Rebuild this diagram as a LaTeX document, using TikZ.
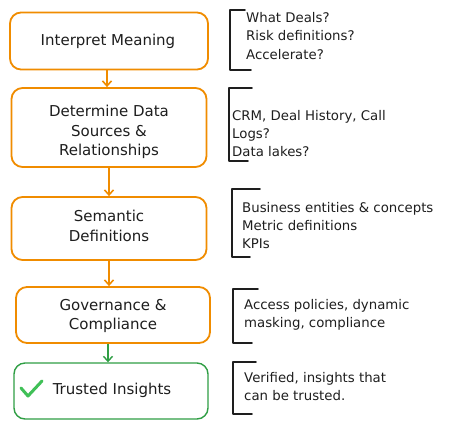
\documentclass[tikz,border=0pt]{standalone}
\usepackage{fontspec}
\setmainfont{DejaVu Sans}
\usetikzlibrary{arrows.meta}
\definecolor{exorange}{HTML}{F08C00}
\definecolor{exgreen}{HTML}{2F9E44}
\definecolor{exchk}{HTML}{40C057}
\definecolor{exink}{HTML}{1E1E1E}
\tikzset{
  flowbox/.style={draw=exorange, line width=1.8pt, rounded corners=11pt, fill=white, inner sep=0pt},
  goodbox/.style={flowbox, draw=exgreen, line width=1.4pt},
  boxtext/.style={align=center, text=exink, inner sep=0pt, font=\fontsize{15}{19.5}\selectfont},
  flowarrow/.style={draw=exorange, line width=1.6pt, -{Straight Barb[length=5pt,width=9pt]}},
  goodarrow/.style={flowarrow, draw=exgreen, line width=1.4pt},
  note/.style={anchor=north west, align=left, text=exink, inner sep=0pt,
    font=\fontsize{13.3}{18}\selectfont},
  brack/.style={draw=exink, line width=1.8pt, line cap=round, line join=round},
}
\begin{document}
\begin{tikzpicture}[x=1pt,y=-1pt]
\useasboundingbox (0,0) rectangle (457,429);
% flow boxes
\node[flowbox, minimum width=198pt, minimum height=57pt] (b1) at (109,41) {};
\node[flowbox, minimum width=195pt, minimum height=79pt] (b2) at (109,127.5) {};
\node[flowbox, minimum width=195pt, minimum height=63pt] (b3) at (109,228.5) {};
\node[flowbox, minimum width=194pt, minimum height=56pt] (b4) at (113,315) {};
\node[goodbox, minimum width=194pt, minimum height=56pt] (b5) at (111,391) {};
% box texts
\node[boxtext] (t1) at (108,41) {Interpret Meaning};
\node[boxtext] (t2) at (109,132) {Determine Data\\Sources \&\\Relationships};
\node[boxtext] (t3) at (109,226) {Semantic\\Definitions};
\node[boxtext] (t4) at (113,316) {Governance \&\\Compliance};
\node[boxtext] (t5) at (112,390.5) {Trusted Insights};
% check mark
\draw[draw=exchk, line width=3pt, line cap=round, line join=round]
  (21,388) -- (28,396) -- (42,381);
% arrows
\draw[flowarrow] ([xshift=-2pt]b1.south) -- ([xshift=-2pt]b1.south |- b2.north);
\draw[flowarrow] (b2.south) -- (b2.south |- b3.north);
\draw[flowarrow] (b3.south) -- (b3.south |- b4.north);
\draw[goodarrow] ([xshift=-3pt]b5.north |- b4.south) -- ([xshift=-3pt]b5.north);
% brackets
\draw[brack] (245,10) -- (230,10) -- (230,70) -- (251,70);
\draw[brack] (252,88) -- (229,88) -- (229,161) -- (248,161);
\draw[brack] (260,189) -- (232,189) -- (232,257) -- (250,257);
\draw[brack] (258,289) -- (233,289) -- (233,343) -- (252,343);
\draw[brack] (256,362) -- (233,362) -- (233,414) -- (252,414);
% notes
\node[note] (n1) at (246,12) {What Deals?\\[0.5pt]Risk definitions?\\[0.5pt]Accelerate?};
\node[note] (n2) at (232,110) {CRM, Deal History, Call\\Logs?\\Data lakes?};
\node[note] (n3) at (242,202) {Business entities \& concepts\\Metric definitions\\KPIs};
\node[note] (n4) at (244,299) {Access policies, dynamic\\masking, compliance};
\node[note] (n5) at (244,372) {Verified, insights that\\can be trusted.};
\end{tikzpicture}
\end{document}
